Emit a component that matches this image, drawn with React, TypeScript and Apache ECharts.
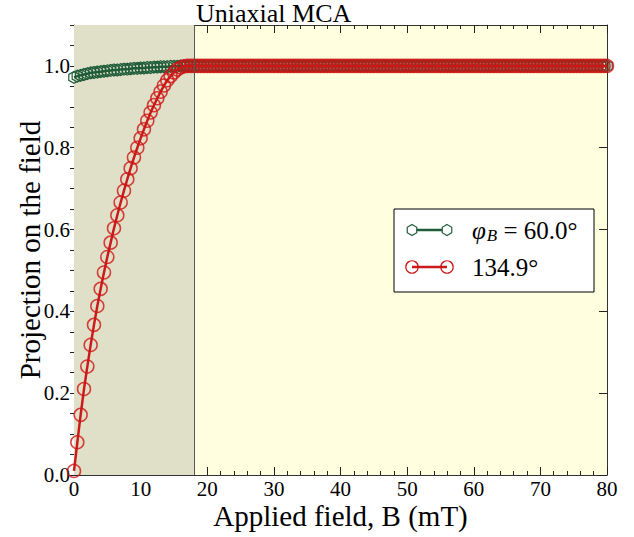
import React, { useEffect, useRef } from "react";
import * as echarts from "echarts";

// Applied field B (mT), sampled every 0.5 mT
const fieldB = [
  0, 0.5, 1, 1.5, 2, 2.5, 3, 3.5, 4, 4.5, 5, 5.5, 6, 6.5, 7, 7.5, 8, 8.5, 9, 9.5,
  10, 10.5, 11, 11.5, 12, 12.5, 13, 13.5, 14, 14.5, 15, 15.5, 16, 16.5, 17, 17.5,
  18, 18.5, 19, 19.5,
  20, 20.5, 21, 21.5, 22, 22.5, 23, 23.5, 24, 24.5, 25, 25.5, 26, 26.5, 27, 27.5, 28, 28.5, 29, 29.5,
  30, 30.5, 31, 31.5, 32, 32.5, 33, 33.5, 34, 34.5, 35, 35.5, 36, 36.5, 37, 37.5, 38, 38.5, 39, 39.5,
  40, 40.5, 41, 41.5, 42, 42.5, 43, 43.5, 44, 44.5, 45, 45.5, 46, 46.5, 47, 47.5, 48, 48.5, 49, 49.5,
  50, 50.5, 51, 51.5, 52, 52.5, 53, 53.5, 54, 54.5, 55, 55.5, 56, 56.5, 57, 57.5, 58, 58.5, 59, 59.5,
  60, 60.5, 61, 61.5, 62, 62.5, 63, 63.5, 64, 64.5, 65, 65.5, 66, 66.5, 67, 67.5, 68, 68.5, 69, 69.5,
  70, 70.5, 71, 71.5, 72, 72.5, 73, 73.5, 74, 74.5, 75, 75.5, 76, 76.5, 77, 77.5, 78, 78.5, 79, 79.5,
  80,
];

// B = 0 ... 18 mT
const greenRamp = [
  0.972, 0.975, 0.977, 0.979, 0.981, 0.983, 0.984, 0.985, 0.986, 0.987,
  0.988, 0.989, 0.99, 0.99, 0.991, 0.992, 0.992, 0.993, 0.994, 0.994,
  0.995, 0.995, 0.996, 0.996, 0.997, 0.997, 0.998, 0.998, 0.998, 0.999,
  0.999, 0.999, 1.0, 1.0, 1.0, 1.0, 1.0,
];
const redRamp = [
  0.01, 0.08, 0.147, 0.21, 0.265, 0.318, 0.367, 0.413, 0.455, 0.495,
  0.533, 0.568, 0.603, 0.635, 0.666, 0.695, 0.723, 0.75, 0.776, 0.8,
  0.823, 0.845, 0.866, 0.886, 0.904, 0.921, 0.937, 0.952, 0.965, 0.975,
  0.984, 0.991, 0.996, 0.999, 1.0, 1.0, 1.0,
];
// B = 18.5 ... 80 mT (saturated)
const saturatedTail = [
  1, 1, 1, 1, 1, 1, 1, 1, 1, 1, 1, 1, 1, 1, 1, 1, 1, 1, 1, 1,
  1, 1, 1, 1, 1, 1, 1, 1, 1, 1, 1, 1, 1, 1, 1, 1, 1, 1, 1, 1,
  1, 1, 1, 1, 1, 1, 1, 1, 1, 1, 1, 1, 1, 1, 1, 1, 1, 1, 1, 1,
  1, 1, 1, 1, 1, 1, 1, 1, 1, 1, 1, 1, 1, 1, 1, 1, 1, 1, 1, 1,
  1, 1, 1, 1, 1, 1, 1, 1, 1, 1, 1, 1, 1, 1, 1, 1, 1, 1, 1, 1,
  1, 1, 1, 1, 1, 1, 1, 1, 1, 1, 1, 1, 1, 1, 1, 1, 1, 1, 1, 1,
  1, 1, 1, 1,
];
const greenValues = [...greenRamp, ...saturatedTail];
const redValues = [...redRamp, ...saturatedTail];

const shadedRange = [0, 18];
const xRange = [0, 80];
const yRange = [0, 1.1];

const FONT = "Liberation Serif";
const GREEN = "#1f5c3a";
const RED = "#cc1a1a";
const RED_MK = "rgba(205,20,20,0.8)";

const hexPath = "path://M0,-1L0.866,-0.5L0.866,0.5L0,1L-0.866,0.5L-0.866,-0.5Z";

function hexPoints(cx: number, cy: number, r: number) {
  const k = 0.866;
  return [
    [cx, cy - r], [cx + k * r, cy - 0.5 * r], [cx + k * r, cy + 0.5 * r],
    [cx, cy + r], [cx - k * r, cy + 0.5 * r], [cx - k * r, cy - 0.5 * r],
  ];
}

export default function App() {
  const ref = useRef<HTMLDivElement>(null);
  useEffect(() => {
    if (!ref.current) return;
    const chart = echarts.init(ref.current, undefined, { renderer: "svg" });
    const greenData = fieldB.map((b, i) => [b, greenValues[i]]);
    const redData = fieldB.map((b, i) => [b, redValues[i]]);

    const baseY = {
      type: "value",
      min: yRange[0],
      max: yRange[1],
      splitLine: { show: false },
      axisLabel: { show: false },
    };
    const baseX = {
      type: "value",
      min: xRange[0],
      max: xRange[1],
      interval: 10,
      splitLine: { show: false },
      axisLine: { show: true, onZero: false, lineStyle: { color: "#333", width: 1 } },
      axisTick: { show: true, inside: true, length: 8, lineStyle: { color: "#222" } },
      minorTick: { show: true, splitNumber: 5, length: 4, lineStyle: { color: "#222" } },
      minorSplitLine: { show: false },
    };

    chart.setOption({
      animation: false,
      backgroundColor: "#ffffff",
      textStyle: { fontFamily: FONT },
      title: {
        text: "Uniaxial MCA",
        left: 196,
        top: 0,
        padding: 0,
        textStyle: { fontFamily: FONT, fontSize: 26, fontWeight: "normal", color: "#000" },
      },
      grid: {
        left: 74,
        right: 27,
        top: 25,
        bottom: 62,
        containLabel: false,
        outerBoundsMode: "none",
        show: true,
        backgroundColor: "#ffffe0",
        borderWidth: 0,
      },
      xAxis: [
        {
          ...baseX,
          position: "bottom",
          name: "Applied field, B (mT)",
          nameLocation: "middle",
          nameGap: 26,
          nameMoveOverlap: false,
          nameTextStyle: { fontFamily: FONT, fontSize: 29, lineHeight: 29, color: "#000" },
          axisLabel: { fontFamily: FONT, fontSize: 21, lineHeight: 20, color: "#000", margin: 4 },
        },
        {
          ...baseX,
          position: "top",
          axisLabel: { show: false },
        },
      ],
      yAxis: [
        {
          ...baseY,
          position: "left",
          interval: 0.2,
          name: "Projection on the field",
          nameLocation: "middle",
          nameGap: 30,
          nameMoveOverlap: false,
          nameTextStyle: { fontFamily: FONT, fontSize: 29, color: "#000" },
          axisLine: { show: true, onZero: false, lineStyle: { color: "#555", width: 1 } },
          axisTick: { show: true, inside: true, length: 8, lineStyle: { color: "#222" } },
          axisLabel: {
            show: true,
            fontFamily: FONT,
            fontSize: 21,
            color: "#000",
            margin: 4,
            showMaxLabel: false,
            formatter: (v: number) => v.toFixed(1),
          },
        },
        {
          ...baseY,
          position: "left",
          interval: 0.05,
          axisLine: { show: false },
          axisTick: { show: true, inside: true, length: 4, lineStyle: { color: "#222" } },
        },
        {
          ...baseY,
          position: "right",
          interval: 0.2,
          axisLine: { show: true, onZero: false, lineStyle: { color: "#333", width: 1 } },
          axisTick: { show: true, inside: true, length: 8, lineStyle: { color: "#222" } },
        },
        {
          ...baseY,
          position: "right",
          interval: 0.05,
          axisLine: { show: false },
          axisTick: { show: true, inside: true, length: 4, lineStyle: { color: "#222" } },
        },
      ],
      series: [
        {
          type: "line",
          z: 1,
          data: [[shadedRange[0], 0]],
          symbol: "none",
          lineStyle: { width: 0, opacity: 0 },
          silent: true,
          markArea: {
            silent: true,
            itemStyle: { color: "#e0e0c8" },
            data: [[{ xAxis: shadedRange[0] }, { xAxis: shadedRange[1] }]],
          },
          markLine: {
            silent: true,
            symbol: "none",
            label: { show: false },
            lineStyle: { color: "#555", width: 1, type: "solid" },
            data: [{ xAxis: shadedRange[1] }],
          },
        },
        {
          type: "line",
          z: 3,
          data: greenData,
          symbol: hexPath,
          symbolKeepAspect: true,
          symbolSize: 12,
          lineStyle: { color: GREEN, width: 2.5 },
          itemStyle: { color: "transparent", borderColor: GREEN, borderWidth: 1.2 },
        },
        {
          type: "line",
          z: 4,
          data: redData,
          symbol: "circle",
          symbolSize: 13,
          lineStyle: { color: RED, width: 2.5 },
          itemStyle: { color: "transparent", borderColor: RED_MK, borderWidth: 1.5 },
        },
      ],
      graphic: [
        {
          type: "group",
          z: 100,
          children: [
            {
              type: "rect",
              shape: { x: 394, y: 209, width: 200, height: 83 },
              style: { fill: "#ffffff", stroke: "#000", lineWidth: 1 },
            },
            {
              type: "line",
              shape: { x1: 412, y1: 230, x2: 447, y2: 230 },
              style: { stroke: GREEN, lineWidth: 2.5 },
            },
            {
              type: "polygon",
              shape: { points: hexPoints(412, 230, 5.5) },
              style: { fill: "#ffffff", stroke: GREEN, lineWidth: 1.2 },
            },
            {
              type: "polygon",
              shape: { points: hexPoints(447, 230, 5.5) },
              style: { fill: "#ffffff", stroke: GREEN, lineWidth: 1.2 },
            },
            {
              type: "line",
              shape: { x1: 412, y1: 267, x2: 447, y2: 267 },
              style: { stroke: RED, lineWidth: 2.5 },
            },
            {
              type: "circle",
              shape: { cx: 412, cy: 267, r: 6.2 },
              style: { fill: "none", stroke: RED, lineWidth: 1.2 },
            },
            {
              type: "circle",
              shape: { cx: 447, cy: 267, r: 6.2 },
              style: { fill: "none", stroke: RED, lineWidth: 1.2 },
            },
            {
              type: "text",
              x: 472,
              y: 230,
              style: {
                text: "{i|φ}{s|B}{n| = 60.0°}",
                verticalAlign: "middle",
                rich: {
                  i: { fontFamily: FONT, fontSize: 25, fontStyle: "italic", fill: "#000" },
                  s: { fontFamily: FONT, fontSize: 17, fontStyle: "italic", fill: "#000", padding: [10, 0, 0, 1] },
                  n: { fontFamily: FONT, fontSize: 25, fill: "#000" },
                },
              },
            },
            {
              type: "text",
              x: 472,
              y: 267,
              style: {
                text: "134.9°",
                verticalAlign: "middle",
                fontFamily: FONT,
                fontSize: 25,
                fill: "#000",
              },
            },
          ],
        },
      ],
    });
    return () => chart.dispose();
  }, []);
  return (
    <div
      ref={ref}
      style={{ position: "absolute", left: 0, top: 0, width: 634, height: 537 }}
    />
  );
}
